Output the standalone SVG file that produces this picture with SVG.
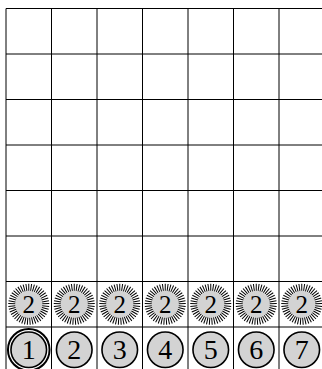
<svg xmlns="http://www.w3.org/2000/svg" xmlns:xlink="http://www.w3.org/1999/xlink" width="322" height="369" viewBox="0 0 322 369">
<style>
.grid line{stroke:#000;stroke-width:1}
.disc{fill:#d3d3d3;stroke:#000;stroke-width:1.6}
.ring{fill:none;stroke:#000;stroke-width:2}
.sun{fill:#d3d3d3;stroke:none}
.ray{stroke:#000;stroke-width:1}
text{font-family:"Liberation Serif","Times New Roman",serif;fill:#000;text-anchor:middle}
.n{font-size:28px}
.s{font-size:25px}
</style>
<defs>
<g id="rays">
<circle class="sun" r="13.5"/>
<g class="ray">
<path d="M0,-13.5V-20.5" transform="rotate(0)"/><path d="M0,-13.5V-20.5" transform="rotate(8)"/><path d="M0,-13.5V-20.5" transform="rotate(16)"/><path d="M0,-13.5V-20.5" transform="rotate(24)"/><path d="M0,-13.5V-20.5" transform="rotate(32)"/><path d="M0,-13.5V-20.5" transform="rotate(40)"/><path d="M0,-13.5V-20.5" transform="rotate(48)"/><path d="M0,-13.5V-20.5" transform="rotate(56)"/><path d="M0,-13.5V-20.5" transform="rotate(64)"/><path d="M0,-13.5V-20.5" transform="rotate(72)"/><path d="M0,-13.5V-20.5" transform="rotate(80)"/><path d="M0,-13.5V-20.5" transform="rotate(88)"/><path d="M0,-13.5V-20.5" transform="rotate(96)"/><path d="M0,-13.5V-20.5" transform="rotate(104)"/><path d="M0,-13.5V-20.5" transform="rotate(112)"/><path d="M0,-13.5V-20.5" transform="rotate(120)"/><path d="M0,-13.5V-20.5" transform="rotate(128)"/><path d="M0,-13.5V-20.5" transform="rotate(136)"/><path d="M0,-13.5V-20.5" transform="rotate(144)"/><path d="M0,-13.5V-20.5" transform="rotate(152)"/><path d="M0,-13.5V-20.5" transform="rotate(160)"/><path d="M0,-13.5V-20.5" transform="rotate(168)"/><path d="M0,-13.5V-20.5" transform="rotate(176)"/><path d="M0,-13.5V-20.5" transform="rotate(184)"/><path d="M0,-13.5V-20.5" transform="rotate(192)"/><path d="M0,-13.5V-20.5" transform="rotate(200)"/><path d="M0,-13.5V-20.5" transform="rotate(208)"/><path d="M0,-13.5V-20.5" transform="rotate(216)"/><path d="M0,-13.5V-20.5" transform="rotate(224)"/><path d="M0,-13.5V-20.5" transform="rotate(232)"/><path d="M0,-13.5V-20.5" transform="rotate(240)"/><path d="M0,-13.5V-20.5" transform="rotate(248)"/><path d="M0,-13.5V-20.5" transform="rotate(256)"/><path d="M0,-13.5V-20.5" transform="rotate(264)"/><path d="M0,-13.5V-20.5" transform="rotate(272)"/><path d="M0,-13.5V-20.5" transform="rotate(280)"/><path d="M0,-13.5V-20.5" transform="rotate(288)"/><path d="M0,-13.5V-20.5" transform="rotate(296)"/><path d="M0,-13.5V-20.5" transform="rotate(304)"/><path d="M0,-13.5V-20.5" transform="rotate(312)"/><path d="M0,-13.5V-20.5" transform="rotate(320)"/><path d="M0,-13.5V-20.5" transform="rotate(328)"/><path d="M0,-13.5V-20.5" transform="rotate(336)"/><path d="M0,-13.5V-20.5" transform="rotate(344)"/><path d="M0,-13.5V-20.5" transform="rotate(352)"/>
</g>
</g>
</defs>
<rect width="322" height="369" fill="#fff"/>
<g id="grid" class="grid">
<line x1="6" y1="8.5" x2="322" y2="8.5"/>
<line x1="6" y1="54" x2="322" y2="54"/>
<line x1="6" y1="99.5" x2="322" y2="99.5"/>
<line x1="6" y1="145" x2="322" y2="145"/>
<line x1="6" y1="190.5" x2="322" y2="190.5"/>
<line x1="6" y1="236" x2="322" y2="236"/>
<line x1="6" y1="281.5" x2="322" y2="281.5"/>
<line x1="6" y1="327" x2="322" y2="327"/>
<line x1="6" y1="8.5" x2="6" y2="369"/>
<line x1="51.5" y1="8.5" x2="51.5" y2="369"/>
<line x1="97" y1="8.5" x2="97" y2="369"/>
<line x1="142.5" y1="8.5" x2="142.5" y2="369"/>
<line x1="188" y1="8.5" x2="188" y2="369"/>
<line x1="233.5" y1="8.5" x2="233.5" y2="369"/>
<line x1="279" y1="8.5" x2="279" y2="369"/>
</g>
<g id="sun1" transform="translate(28.75,304.25)"><use xlink:href="#rays"/><text class="s" y="8.5">2</text></g>
<g id="sun2" transform="translate(74.25,304.25)"><use xlink:href="#rays"/><text class="s" y="8.5">2</text></g>
<g id="sun3" transform="translate(119.75,304.25)"><use xlink:href="#rays"/><text class="s" y="8.5">2</text></g>
<g id="sun4" transform="translate(165.25,304.25)"><use xlink:href="#rays"/><text class="s" y="8.5">2</text></g>
<g id="sun5" transform="translate(210.75,304.25)"><use xlink:href="#rays"/><text class="s" y="8.5">2</text></g>
<g id="sun6" transform="translate(256.25,304.25)"><use xlink:href="#rays"/><text class="s" y="8.5">2</text></g>
<g id="sun7" transform="translate(301.75,304.25)"><use xlink:href="#rays"/><text class="s" y="8.5">2</text></g>
<g id="num1" transform="translate(28.75,349.75)"><circle class="ring" r="20.8"/><circle class="disc" r="17.8"/><text class="n" y="9.5">1</text></g>
<g id="num2" transform="translate(74.25,349.75)"><circle class="disc" r="17.8"/><text class="n" y="9.5">2</text></g>
<g id="num3" transform="translate(119.75,349.75)"><circle class="disc" r="17.8"/><text class="n" y="9.5">3</text></g>
<g id="num4" transform="translate(165.25,349.75)"><circle class="disc" r="17.8"/><text class="n" y="9.5">4</text></g>
<g id="num5" transform="translate(210.75,349.75)"><circle class="disc" r="17.8"/><text class="n" y="9.5">5</text></g>
<g id="num6" transform="translate(256.25,349.75)"><circle class="disc" r="17.8"/><text class="n" y="9.5">6</text></g>
<g id="num7" transform="translate(301.75,349.75)"><circle class="disc" r="17.8"/><text class="n" y="9.5">7</text></g>
</svg>
